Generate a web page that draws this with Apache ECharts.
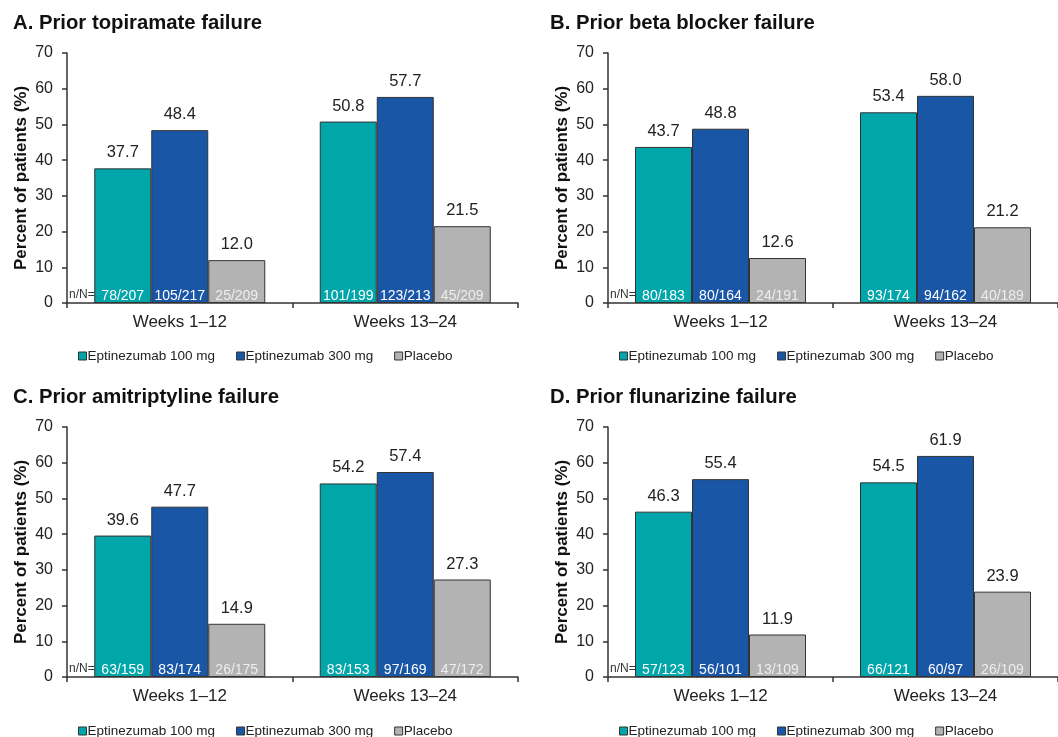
<!DOCTYPE html>
<html>
<head>
<meta charset="utf-8">
<script src="https://cdn.jsdelivr.net/npm/echarts@6/dist/echarts.min.js"></script>
<style>
html,body{margin:0;padding:0;background:#fff;}
#chart{width:1058px;height:737px;}
</style>
</head>
<body>
<div id="chart"></div>
<script>
// ---------- data ----------
const categories = ['Weeks 1\u201312', 'Weeks 13\u201324'];
const seriesNames = ['Eptinezumab 100 mg', 'Eptinezumab 300 mg', 'Placebo'];
const panelTitles = ['A. Prior topiramate failure', 'B. Prior beta blocker failure',
                     'C. Prior amitriptyline failure', 'D. Prior flunarizine failure'];
const yTicks = [0, 10, 20, 30, 40, 50, 60, 70];

// A. topiramate
const topiramate100 = [37.7, 50.8];
const topiramate300 = [48.4, 57.7];
const topiramatePbo = [12.0, 21.5];
const topiramate100N = ['78/207', '101/199'];
const topiramate300N = ['105/217', '123/213'];
const topiramatePboN = ['25/209', '45/209'];
// B. beta blocker
const betaBlocker100 = [43.7, 53.4];
const betaBlocker300 = [48.8, 58.0];
const betaBlockerPbo = [12.6, 21.2];
const betaBlocker100N = ['80/183', '93/174'];
const betaBlocker300N = ['80/164', '94/162'];
const betaBlockerPboN = ['24/191', '40/189'];
// C. amitriptyline
const amitriptyline100 = [39.6, 54.2];
const amitriptyline300 = [47.7, 57.4];
const amitriptylinePbo = [14.9, 27.3];
const amitriptyline100N = ['63/159', '83/153'];
const amitriptyline300N = ['83/174', '97/169'];
const amitriptylinePboN = ['26/175', '47/172'];
// D. flunarizine
const flunarizine100 = [46.3, 54.5];
const flunarizine300 = [55.4, 61.9];
const flunarizinePbo = [11.9, 23.9];
const flunarizine100N = ['57/123', '66/121'];
const flunarizine300N = ['56/101', '60/97'];
const flunarizinePboN = ['13/109', '26/109'];

// ---------- build ----------
const FONT = "'Liberation Sans', Arial, Helvetica, sans-serif";
const colors = ['#00A6AA', '#1A56A6', '#B3B3B3'];
const nLabelColors = ['#ffffff', '#ffffff', '#eeeeee'];

const panels = [
  {vals: [topiramate100, topiramate300, topiramatePbo], ns: [topiramate100N, topiramate300N, topiramatePboN]},
  {vals: [betaBlocker100, betaBlocker300, betaBlockerPbo], ns: [betaBlocker100N, betaBlocker300N, betaBlockerPboN]},
  {vals: [amitriptyline100, amitriptyline300, amitriptylinePbo], ns: [amitriptyline100N, amitriptyline300N, amitriptylinePboN]},
  {vals: [flunarizine100, flunarizine300, flunarizinePbo], ns: [flunarizine100N, flunarizine300N, flunarizinePboN]}
];

const layout = [
  {left: 67, top: 53, width: 451, tx: 13, ty: 13, lx: 78, ly: 349},
  {left: 608, top: 53, width: 455, tx: 550, ty: 13, lx: 619, ly: 349},
  {left: 67, top: 427, width: 451, tx: 13, ty: 387, lx: 78, ly: 724},
  {left: 608, top: 427, width: 455, tx: 550, ty: 387, lx: 619, ly: 724}
];

const option = {
  backgroundColor: '#fff',
  animation: false,
  textStyle: {fontFamily: FONT},
  title: [], legend: [], grid: [], xAxis: [], yAxis: [], series: []
};

panels.forEach((p, i) => {
  const L = layout[i];
  option.title.push({
    text: panelTitles[i], left: L.tx, top: L.ty, padding: 0,
    textStyle: {fontFamily: FONT, fontSize: 20.3, fontWeight: 'bold', color: '#111'}
  });
  option.legend.push({
    data: seriesNames, left: L.lx, top: L.ly, padding: 0,
    itemWidth: 8, itemHeight: 8, itemGap: 21, icon: 'rect',
    textStyle: {fontFamily: FONT, fontSize: 13.5, color: '#222', padding: [0, 0, 0, -4]},
    itemStyle: {borderColor: '#333', borderWidth: 1},
    selectedMode: false
  });
  option.grid.push({left: L.left, top: L.top, width: L.width, height: 250});
  option.xAxis.push({
    type: 'category', gridIndex: i, data: categories,
    axisLine: {lineStyle: {color: '#333', width: 1.5}},
    axisTick: {show: true, length: 5, lineStyle: {color: '#333', width: 1.5}},
    axisLabel: {fontFamily: FONT, fontSize: 17, color: '#222', margin: 11}
  });
  option.yAxis.push({
    type: 'value', gridIndex: i, min: yTicks[0], max: yTicks[yTicks.length - 1], interval: 10,
    name: 'Percent of patients (%)', nameLocation: 'middle', nameGap: 37,
    nameTextStyle: {fontFamily: FONT, fontSize: 17, fontWeight: 'bold', color: '#111'},
    axisLine: {show: true, lineStyle: {color: '#333', width: 1.5}},
    axisTick: {show: true, length: 5, lineStyle: {color: '#333', width: 1.5}},
    axisLabel: {fontFamily: FONT, fontSize: 16, color: '#222', margin: 14},
    splitLine: {show: false}
  });
  for (let s = 0; s < 3; s++) {
    const stackId = 'p' + i + 's' + s;
    // zero-height carrier for the n/N label at the base of the bar
    option.series.push({
      type: 'bar', name: 'n' + i + s, xAxisIndex: i, yAxisIndex: i, stack: stackId,
      data: categories.map(() => 0), barWidth: 57, barGap: '0%',
      itemStyle: {color: 'rgba(0,0,0,0)', borderWidth: 0},
      label: {show: true, position: 'top', distance: 0,
        formatter: (d) => p.ns[s][d.dataIndex],
        fontFamily: FONT, fontSize: 14, color: nLabelColors[s]},
      z: 5, silent: true
    });
    option.series.push({
      type: 'bar', name: seriesNames[s], xAxisIndex: i, yAxisIndex: i, stack: stackId,
      data: p.vals[s], barWidth: 57, barGap: '0%',
      itemStyle: {color: colors[s], borderColor: '#333', borderWidth: 1},
      label: {show: true, position: 'top', distance: 7,
        formatter: (d) => d.value.toFixed(1),
        fontFamily: FONT, fontSize: 16.5, color: '#222'},
      z: 2
    });
  }
});

const chart = echarts.init(document.getElementById('chart'), null, {renderer: 'canvas'});
chart.setOption(option);

// "n/N=" caption at the left of each plot's baseline
const graphics = [];
panels.forEach((p, i) => {
  const x0 = chart.convertToPixel({xAxisIndex: i}, categories[0]);
  const y0 = chart.convertToPixel({yAxisIndex: i}, 0);
  const band = chart.convertToPixel({xAxisIndex: i}, categories[1]) - x0;
  const axisLeft = x0 - band / 2;
  graphics.push({
    type: 'text', left: axisLeft + 2, top: y0 - 14, z: 10,
    style: {text: 'n/N=', font: '12px ' + FONT, fill: '#333'}
  });
});
chart.setOption({graphic: graphics});
</script>
</body>
</html>
